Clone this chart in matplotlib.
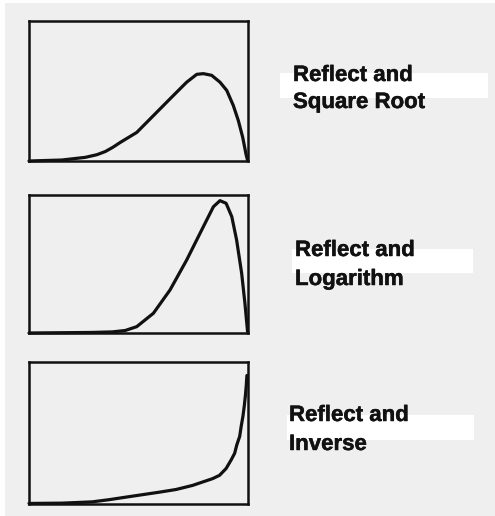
import matplotlib.pyplot as plt
import matplotlib.patheffects as pe
from matplotlib.patches import Rectangle

# Shapes of the distribution after each transformation (normalised to the box).
sqrt_x = [0.0, 0.15, 0.257, 0.310, 0.349, 0.383, 0.416, 0.492, 0.568, 0.644,
          0.720, 0.766, 0.796, 0.834, 0.872, 0.903, 0.933, 0.956, 0.976,
          0.991, 0.998]
sqrt_y = [0.0, 0.007, 0.026, 0.045, 0.068, 0.098, 0.132, 0.204, 0.324, 0.444,
          0.563, 0.619, 0.624, 0.612, 0.563, 0.504, 0.396, 0.288, 0.168,
          0.048, 0.005]

log_x = [0.0, 0.287, 0.380, 0.439, 0.492, 0.568, 0.644, 0.720, 0.796, 0.842,
         0.872, 0.900, 0.926, 0.948, 0.971, 0.986, 0.998]
log_y = [0.0, 0.004, 0.008, 0.018, 0.046, 0.143, 0.312, 0.529, 0.770, 0.915,
         0.959, 0.940, 0.843, 0.674, 0.433, 0.215, 0.010]

inv_x = [0.0, 0.150, 0.288, 0.364, 0.441, 0.594, 0.671, 0.747, 0.839, 0.870,
         0.900, 0.923, 0.939, 0.949, 0.962, 0.969, 0.977, 0.983, 0.988, 0.992,
         0.995]
inv_y = [0.004, 0.006, 0.015, 0.030, 0.048, 0.083, 0.102, 0.131, 0.179, 0.202,
         0.250, 0.310, 0.357, 0.417, 0.476, 0.548, 0.619, 0.690, 0.762, 0.833,
         0.905]

labels = [('Reflect and', 'Square Root'),
          ('Reflect and', 'Logarithm'),
          ('Reflect and', 'Inverse')]

W, H = 495, 516
bg = '#efefef'

fig = plt.figure(figsize=(W / 100, H / 100), dpi=100)
fig.patch.set_facecolor('white')
fig.patches.append(Rectangle((5 / W, 0), 1, 1 - 3 / H, transform=fig.transFigure,
                             facecolor=bg, edgecolor='none', zorder=-1))

# axes boxes in pixels: left, top, right, bottom
boxes = [(29, 21, 248, 161), (29, 195, 248, 333), (29, 362, 248, 504)]
curves = [(sqrt_x, sqrt_y), (log_x, log_y), (inv_x, inv_y)]

for (l, t, r, b), (xs, ys) in zip(boxes, curves):
    ax = fig.add_axes([l / W, 1 - b / H, (r - l) / W, (b - t) / H])
    ax.set_facecolor(bg)
    ax.plot(xs, ys, color='#111111', lw=2.3, solid_capstyle='round',
            solid_joinstyle='round', clip_on=False)
    ax.set_xlim(0, 1)
    ax.set_ylim(0, 1)
    ax.set_xticks([])
    ax.set_yticks([])
    for s in ax.spines.values():
        s.set_linewidth(1.8)
        s.set_color('#111111')

# white strips behind the labels: left, top, right, bottom
strips = [(280, 73, 488, 98), (292, 249, 473, 273), (287, 415, 474, 440)]
# text left edge and the two baselines
text_pos = [(293, 81, 108), (295, 256, 285), (289, 421, 450)]

heavy = [pe.withStroke(linewidth=0.35, foreground='#111111')]
for (l, t, r, b), (tx, b1, b2), (line1, line2) in zip(strips, text_pos, labels):
    fig.patches.append(Rectangle((l / W, 1 - b / H), (r - l) / W, (b - t) / H,
                                 transform=fig.transFigure, facecolor='white',
                                 edgecolor='none', zorder=1))
    for txt, base in ((line1, b1), (line2, b2)):
        fig.text(tx / W, 1 - base / H, txt, family='Liberation Sans',
                 weight='bold', fontsize=16, color='#111111',
                 ha='left', va='baseline', zorder=2, path_effects=heavy)

fig.savefig('out.png', dpi=100, facecolor=fig.get_facecolor())
